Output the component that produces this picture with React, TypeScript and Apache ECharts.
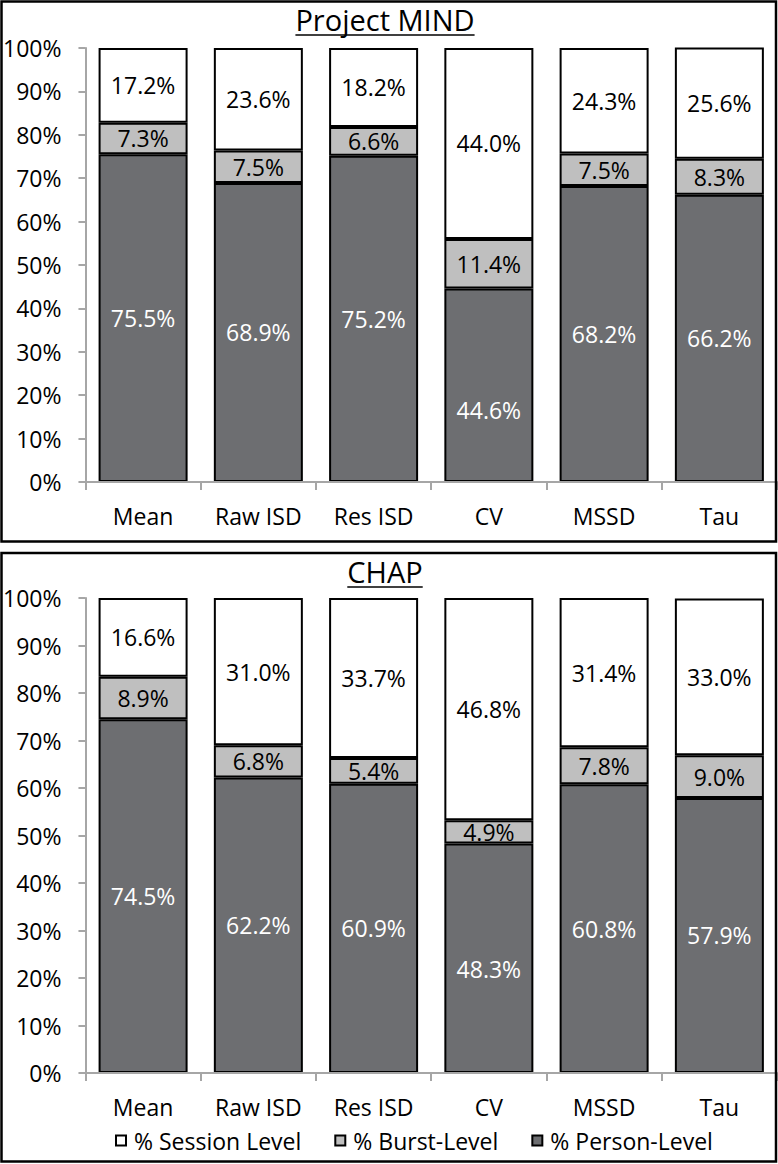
import React, { useEffect, useRef } from "react";
import * as echarts from "echarts";

const categories = ["Mean", "Raw ISD", "Res ISD", "CV", "MSSD", "Tau"];
const yTicks = [0, 10, 20, 30, 40, 50, 60, 70, 80, 90, 100];

const mindPerson = [75.5, 68.9, 75.2, 44.6, 68.2, 66.2];
const mindBurst = [7.3, 7.5, 6.6, 11.4, 7.5, 8.3];
const mindSession = [17.2, 23.6, 18.2, 44.0, 24.3, 25.6];

const chapPerson = [74.5, 62.2, 60.9, 48.3, 60.8, 57.9];
const chapBurst = [8.9, 6.8, 5.4, 4.9, 7.8, 9.0];
const chapSession = [16.6, 31.0, 33.7, 46.8, 31.4, 33.0];

const seriesNames = ["% Session Level", "% Burst-Level", "% Person-Level"];
const panelTitles = ["Project MIND", "CHAP"];

const FONT = "'Open Sans', 'Noto Sans', sans-serif";
const LABEL_SIZE = 23;
const TITLE_SIZE = 29;

function measure(text: string, size: number) {
  const c = document.createElement("canvas").getContext("2d");
  if (!c) return text.length * size * 0.55;
  c.font = `${size}px 'Open Sans'`;
  return c.measureText(text).width;
}

export default function App() {
  const ref = useRef<HTMLDivElement>(null);

  useEffect(() => {
    if (!ref.current) return;
    document.body.style.margin = "0";
    const chart = echarts.init(ref.current, undefined, { renderer: "svg" });

    const grids = [
      { left: 85, top: 48, width: 692, height: 434 },
      { left: 85, top: 598, width: 692, height: 475 },
    ];

    const axisGrey = "#a6a6a6";

    const xAxes = grids.map((_, i) => ({
      type: "category",
      gridIndex: i,
      data: categories,
      z: 5,
      axisLine: { show: true, lineStyle: { color: axisGrey, width: 2 } },
      axisTick: { show: true, alignWithLabel: false, length: 8, lineStyle: { color: axisGrey, width: 2 } },
      axisLabel: { color: "#000", fontSize: LABEL_SIZE, fontFamily: FONT, margin: 22 },
      splitLine: { show: false },
    }));

    const yAxes = grids.map((_, i) => ({
      type: "value",
      gridIndex: i,
      min: yTicks[0],
      max: yTicks[yTicks.length - 1],
      interval: yTicks[1] - yTicks[0],
      axisLine: { show: true, lineStyle: { color: axisGrey, width: 2 } },
      axisTick: { show: true, length: 7, lineStyle: { color: axisGrey, width: 2 } },
      axisLabel: { color: "#000", fontSize: LABEL_SIZE, fontFamily: FONT, margin: 24, formatter: "{value}%" },
      splitLine: { show: false },
    }));

    const panels = [
      { person: mindPerson, burst: mindBurst, session: mindSession, cvShift: 25 },
      { person: chapPerson, burst: chapBurst, session: chapSession, cvShift: 11 },
    ];

    const colors: Record<string, string> = {
      "% Person-Level": "#6d6e71",
      "% Burst-Level": "#bfbfbf",
      "% Session Level": "#ffffff",
    };

    const series: any[] = [];
    panels.forEach((p, i) => {
      const defs = [
        { name: seriesNames[2], data: p.person, labelColor: "#ffffff", shift: p.cvShift },
        { name: seriesNames[1], data: p.burst, labelColor: "#000000", shift: 0 },
        { name: seriesNames[0], data: p.session, labelColor: "#000000", shift: 0 },
      ];
      defs.forEach((d) => {
        series.push({
          type: "bar",
          name: d.name,
          xAxisIndex: i,
          yAxisIndex: i,
          stack: "s" + i,
          barWidth: 89,
          data: d.data.map((v, k) =>
            categories[k] === "CV" && d.shift
              ? { value: v, label: { offset: [0, d.shift] } }
              : v
          ),
          itemStyle: { color: colors[d.name], borderColor: "#000", borderWidth: 2 },
          label: {
            show: true,
            position: "inside",
            color: d.labelColor,
            fontSize: LABEL_SIZE,
            fontFamily: FONT,
            formatter: (v: any) => Number(v.value).toFixed(1) + "%",
          },
        });
      });
    });

    const titleY = [19, 571];
    const graphics: any[] = [
      { type: "rect", shape: { x: 1.5, y: 1.5, width: 774.5, height: 540 }, style: { fill: "none", stroke: "#000", lineWidth: 2.5 }, z: 10 },
      { type: "rect", shape: { x: 1.5, y: 553, width: 774.5, height: 608.5 }, style: { fill: "none", stroke: "#000", lineWidth: 2.5 }, z: 10 },
    ];
    panelTitles.forEach((t, i) => {
      const w = measure(t, TITLE_SIZE);
      const cx = 385;
      graphics.push({
        type: "text",
        x: cx,
        y: titleY[i],
        style: { text: t, fontSize: TITLE_SIZE, fontFamily: FONT, fill: "#000", align: "center", verticalAlign: "middle" },
        z: 10,
      });
      graphics.push({
        type: "line",
        shape: { x1: cx - w / 2, y1: titleY[i] + 16, x2: cx + w / 2, y2: titleY[i] + 16 },
        style: { stroke: "#000", lineWidth: 1.5 },
        z: 10,
      });
    });

    chart.setOption({
      animation: false,
      backgroundColor: "#ffffff",
      grid: grids,
      xAxis: xAxes,
      yAxis: yAxes,
      legend: {
        data: seriesNames,
        left: 110,
        top: 1124,
        itemGap: 33,
        itemWidth: 10,
        itemHeight: 10,
        icon: "rect",
        selectedMode: false,
        itemStyle: { borderColor: "#000", borderWidth: 2 },
        textStyle: { color: "#000", fontSize: LABEL_SIZE, fontFamily: FONT, padding: [0, 0, 0, 3] },
      },
      series,
      graphic: graphics,
    });

    return () => chart.dispose();
  }, []);

  return (
    <div
      ref={ref}
      style={{ position: "absolute", left: 0, top: 0, width: 778, height: 1164, background: "#fff" }}
    />
  );
}
